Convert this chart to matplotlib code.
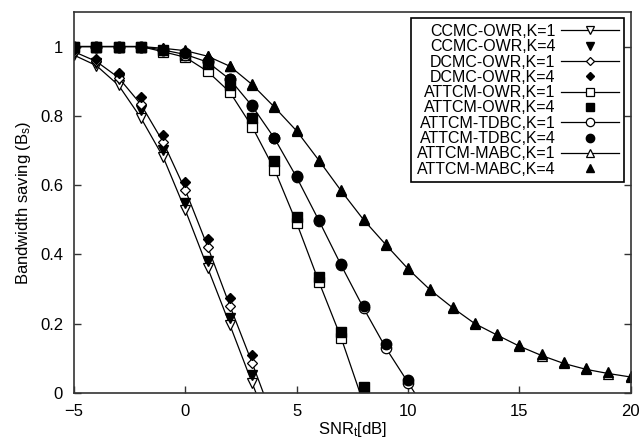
import matplotlib
matplotlib.use('Agg')
import matplotlib.pyplot as plt
import numpy as np

plt.rcParams['font.family'] = ['Liberation Sans', 'DejaVu Sans']
plt.rcParams['mathtext.fontset'] = 'custom'
plt.rcParams['mathtext.rm'] = 'Liberation Sans'
plt.rcParams['mathtext.it'] = 'Liberation Sans'

# SNR_t [dB] values
snr_cc = [-5, -4, -3, -2, -1, 0, 1, 2, 3]
snr_cc_line = [-5, -4, -3, -2, -1, 0, 1, 2, 3, 4]
snr_owr = list(range(-5, 9))
snr_tdbc = list(range(-5, 11))
snr_tdbc_line = list(range(-5, 12))
snr_mabc = list(range(-5, 21))

# bandwidth saving
ccmc_k1 = [0.975, 0.945, 0.888, 0.794, 0.681, 0.527, 0.361, 0.196, 0.028, -0.137]
ccmc_k4 = [0.98, 0.952, 0.907, 0.816, 0.702, 0.548, 0.381, 0.215, 0.052]
dcmc_k1 = [0.985, 0.957, 0.91, 0.833, 0.724, 0.585, 0.422, 0.251, 0.086, -0.086]
dcmc_k4 = [0.99, 0.964, 0.923, 0.854, 0.746, 0.609, 0.443, 0.273, 0.11]
owr_k1 = [1.0, 1.0, 1.0, 1.0, 0.985, 0.969, 0.928, 0.868, 0.768, 0.645, 0.49, 0.32, 0.158, -0.03]
owr_k4 = [1.0, 1.0, 1.0, 1.0, 0.99, 0.976, 0.95, 0.888, 0.794, 0.669, 0.508, 0.335, 0.177, 0.016]
tdbc_k1 = [1.0, 1.0, 1.0, 1.0, 0.99, 0.977, 0.955, 0.905, 0.828, 0.735, 0.622, 0.497, 0.368, 0.245, 0.13, 0.03, -0.07]
tdbc_k4 = [1.0, 1.0, 1.0, 1.0, 0.99, 0.98, 0.958, 0.907, 0.83, 0.737, 0.626, 0.499, 0.372, 0.25, 0.141, 0.037]
mabc_k1 = [1.0, 1.0, 1.0, 1.0, 0.995, 0.988, 0.972, 0.943, 0.89, 0.825, 0.756, 0.671, 0.583, 0.5,
           0.428, 0.358, 0.297, 0.246, 0.2, 0.167, 0.135, 0.108, 0.085, 0.068, 0.056, 0.046]
mabc_k4 = [1.0, 1.0, 1.0, 1.0, 0.995, 0.99, 0.974, 0.945, 0.892, 0.827, 0.758, 0.673, 0.585, 0.503,
           0.43, 0.36, 0.3, 0.249, 0.203, 0.17, 0.138, 0.111, 0.088, 0.071, 0.059, 0.049]

fig = plt.figure(figsize=(6.39, 4.41), dpi=100)
ax = fig.add_axes([0.116, 0.109, 0.871, 0.864])

sizes = {'v': 7, '^': 7, 'D': 5.5, 's': 7, 'o': 7.5}
lw = 0.9

def open_series(x, y, m, label, n_mark=None):
    if n_mark is None:
        n_mark = len(x)
    ax.plot(x, y, '-', color='k', lw=lw, marker=m, ms=sizes[m], mfc='white', mec='k', mew=0.9,
            markevery=list(range(n_mark)), label=label)

def filled_series(x, y, m, label):
    ax.plot(x, y, linestyle='none', marker=m, ms=sizes[m], mfc='k', mec='k', label=label)

open_series(snr_cc_line, ccmc_k1, 'v', 'CCMC-OWR,K=1', len(snr_cc))
filled_series(snr_cc, ccmc_k4, 'v', 'CCMC-OWR,K=4')
open_series(snr_cc_line, dcmc_k1, 'D', 'DCMC-OWR,K=1', len(snr_cc))
filled_series(snr_cc, dcmc_k4, 'D', 'DCMC-OWR,K=4')
open_series(snr_owr, owr_k1, 's', 'ATTCM-OWR,K=1', len(snr_owr) - 1)
filled_series(snr_owr, owr_k4, 's', 'ATTCM-OWR,K=4')
open_series(snr_tdbc_line, tdbc_k1, 'o', 'ATTCM-TDBC,K=1', len(snr_tdbc))
filled_series(snr_tdbc, tdbc_k4, 'o', 'ATTCM-TDBC,K=4')
open_series(snr_mabc, mabc_k1, '^', 'ATTCM-MABC,K=1')
filled_series(snr_mabc, mabc_k4, '^', 'ATTCM-MABC,K=4')

ax.set_xlim(-5, 20)
ax.set_ylim(0, 1.1)
ax.set_xticks([-5, 0, 5, 10, 15, 20])
ax.set_yticks([0, 0.2, 0.4, 0.6, 0.8, 1])
ax.set_yticklabels(['0', '0.2', '0.4', '0.6', '0.8', '1'])
ax.tick_params(direction='in', length=5, width=1, labelsize=12, pad=8, right=True,
               color='#333333')
for sp in ax.spines.values():
    sp.set_linewidth(1.2)
    sp.set_color('#333333')

ax.set_xlabel('SNR$_\\mathrm{t}$[dB]', fontsize=12, labelpad=1)
ax.set_ylabel('Bandwidth saving (B$_\\mathrm{s}$)', fontsize=12, labelpad=5)

leg = ax.legend(loc='upper right', markerfirst=False, fontsize=11.5, handlelength=3.6,
                handletextpad=0.35, labelspacing=0.02, borderpad=0.35, borderaxespad=0.4,
                markerscale=0.8, fancybox=False, framealpha=1, edgecolor='k')
leg.get_frame().set_linewidth(1.2)

plt.savefig('out.png', dpi=100)
